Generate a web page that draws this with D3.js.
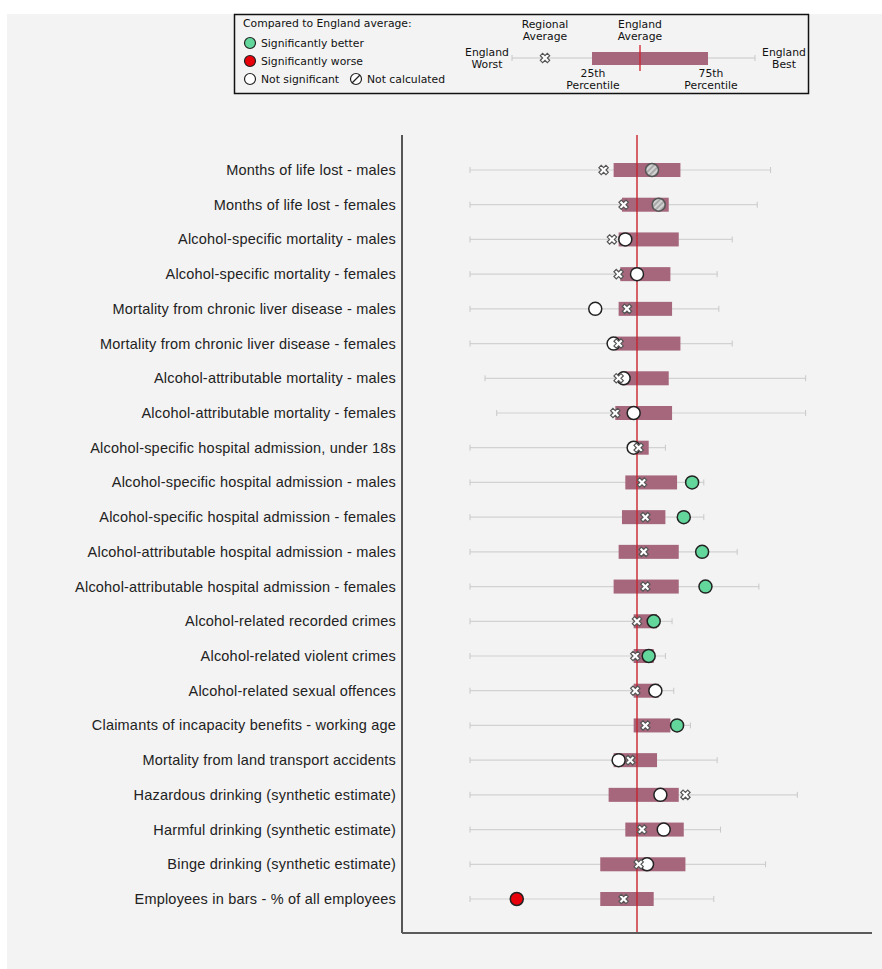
<!DOCTYPE html>
<html>
<head>
<meta charset="utf-8">
<script src="https://cdn.jsdelivr.net/npm/d3@7"></script>
<style>
body { margin: 0; background: #fff; }
.label { font-family: "Liberation Sans", Arial, sans-serif; font-size: 14.5px; letter-spacing: 0.2px; fill: #222; }
.legend-text { font-family: "DejaVu Sans", Verdana, sans-serif; font-size: 10.8px; fill: #111; }
</style>
</head>
<body>
<div class="chart-wrapper"></div>
<script>
// indicators, top to bottom
const indicators = [
  'Months of life lost - males',
  'Months of life lost - females',
  'Alcohol-specific mortality - males',
  'Alcohol-specific mortality - females',
  'Mortality from chronic liver disease - males',
  'Mortality from chronic liver disease - females',
  'Alcohol-attributable mortality - males',
  'Alcohol-attributable mortality - females',
  'Alcohol-specific hospital admission, under 18s',
  'Alcohol-specific hospital admission - males',
  'Alcohol-specific hospital admission - females',
  'Alcohol-attributable hospital admission - males',
  'Alcohol-attributable hospital admission - females',
  'Alcohol-related recorded crimes',
  'Alcohol-related violent crimes',
  'Alcohol-related sexual offences',
  'Claimants of incapacity benefits - working age',
  'Mortality from land transport accidents',
  'Hazardous drinking (synthetic estimate)',
  'Harmful drinking (synthetic estimate)',
  'Binge drinking (synthetic estimate)',
  'Employees in bars - % of all employees'
]

// values on the spine scale: England average = 0, worst = -1
const englandWorst = [-1, -1, -1, -1, -1, -1, -0.91, -0.84, -1, -1, -1, -1, -1, -1, -1, -1, -1, -1, -1, -1, -1, -1]
const englandBest = [0.80, 0.72, 0.57, 0.48, 0.49, 0.57, 1.01, 1.01, 0.17, 0.40, 0.40, 0.60, 0.73, 0.21, 0.17, 0.22, 0.32, 0.48, 0.96, 0.50, 0.77, 0.46]
const percentile25 = [-0.14, -0.09, -0.11, -0.10, -0.11, -0.13, -0.09, -0.13, -0.01, -0.07, -0.09, -0.11, -0.14, -0.02, -0.02, -0.02, -0.02, -0.14, -0.17, -0.07, -0.22, -0.22]
const percentile75 = [0.26, 0.19, 0.25, 0.20, 0.21, 0.26, 0.19, 0.21, 0.07, 0.24, 0.17, 0.25, 0.25, 0.12, 0.10, 0.13, 0.20, 0.12, 0.25, 0.28, 0.29, 0.10]
const regionalAvg = [-0.20, -0.08, -0.15, -0.11, -0.06, -0.11, -0.11, -0.13, 0.01, 0.03, 0.05, 0.04, 0.05, 0.00, -0.01, -0.01, 0.05, -0.04, 0.29, 0.03, 0.01, -0.08]
const localValue = [0.09, 0.13, -0.07, 0.00, -0.25, -0.14, -0.08, -0.02, -0.02, 0.33, 0.28, 0.39, 0.41, 0.10, 0.07, 0.11, 0.24, -0.11, 0.14, 0.16, 0.06, -0.72]
const significance = ['nc', 'nc', 'ns', 'ns', 'ns', 'ns', 'ns', 'ns', 'ns', 'better', 'better', 'better', 'better', 'better', 'better', 'ns', 'better', 'ns', 'ns', 'ns', 'ns', 'worse']

const sigFill = { better: '#63d69c', worse: '#e8000b', ns: '#fff', nc: 'url(#hatch)' }
const boxColor = '#a6677d'
const width = 882
const height = 969

let rows = indicators.map((name, i) => ({
  name: name,
  worst: englandWorst[i],
  best: englandBest[i],
  q25: percentile25[i],
  q75: percentile75[i],
  region: regionalAvg[i],
  value: localValue[i],
  sig: significance[i]
}))

let svg = d3.select('.chart-wrapper').append('svg')
  .attr('width', width)
  .attr('height', height)

let defs = svg.append('defs')
let hatch = defs.append('pattern')
  .attr('id', 'hatch')
  .attr('patternUnits', 'userSpaceOnUse')
  .attr('width', 4)
  .attr('height', 4)
  .attr('patternTransform', 'rotate(-45)')
hatch.append('rect').attr('width', 4).attr('height', 4).attr('fill', '#a9a9a9')
hatch.append('line').attr('x1', 0).attr('y1', 1).attr('x2', 4).attr('y2', 1)
  .attr('stroke', '#e2e2e2').attr('stroke-width', 1.5)

svg.append('rect')
  .attr('x', 7)
  .attr('y', 14)
  .attr('width', width - 7)
  .attr('height', height - 14)
  .attr('fill', '#f3f3f3')

let x = d3.scaleLinear()
  .domain([-1, 1])
  .range([470, 804])

let y = d3.scalePoint()
  .domain(indicators)
  .range([170, 899])

const plotLeft = 402, plotRight = 872, plotTop = 135, plotBottom = 933

// regional marker, a bold x
let crossPath = d3.symbol().type(d3.symbolCross).size(55)()

function regionMarker(g, cx, cy) {
  g.append('path')
    .attr('d', crossPath)
    .attr('transform', 'translate(' + cx + ',' + cy + ') rotate(45)')
    .attr('fill', '#fff')
    .attr('stroke', '#555')
    .attr('stroke-width', 1.2)
}

// ----- legend
let legend = svg.append('g')

legend.append('rect')
  .attr('x', 234.5)
  .attr('y', 14.5)
  .attr('width', 574)
  .attr('height', 79)
  .attr('fill', '#f3f3f3')
  .attr('stroke', '#111')
  .attr('stroke-width', 1.5)

legend.append('text').attr('class', 'legend-text')
  .attr('x', 243).attr('y', 27)
  .text('Compared to England average:')

let legendItems = [
  { label: 'Significantly better', fill: sigFill.better, x: 250, y: 43 },
  { label: 'Significantly worse', fill: sigFill.worse, x: 250, y: 61 },
  { label: 'Not significant', fill: '#fff', x: 250, y: 79 },
  { label: 'Not calculated', fill: '#fff', x: 356, y: 79 }
]

legendItems.forEach(d => {
  legend.append('circle')
    .attr('cx', d.x).attr('cy', d.y).attr('r', 5.5)
    .attr('fill', d.fill)
    .attr('stroke', '#222')
    .attr('stroke-width', 1.2)
  legend.append('text').attr('class', 'legend-text')
    .attr('x', d.x + 11).attr('y', d.y + 4)
    .text(d.label)
})
legend.append('line')
  .attr('x1', 352).attr('y1', 83).attr('x2', 360).attr('y2', 75)
  .attr('stroke', '#222').attr('stroke-width', 1.2)

// legend spine
legend.append('line')
  .attr('x1', 512).attr('x2', 755).attr('y1', 58).attr('y2', 58)
  .attr('stroke', '#c8c8c8').attr('stroke-width', 1.2)
legend.selectAll('.cap').data([512, 755]).enter().append('line')
  .attr('x1', d => d).attr('x2', d => d).attr('y1', 55).attr('y2', 61)
  .attr('stroke', '#c8c8c8')
legend.append('rect')
  .attr('x', 592).attr('y', 52).attr('width', 116).attr('height', 13)
  .attr('fill', boxColor)
legend.append('line')
  .attr('x1', 640).attr('x2', 640).attr('y1', 45).attr('y2', 71)
  .attr('stroke', '#d0202a').attr('stroke-width', 1.3)
regionMarker(legend, 545, 58)

let legendLabels = [
  { lines: ['Regional', 'Average'], x: 545, y: 28 },
  { lines: ['England', 'Average'], x: 640, y: 28 },
  { lines: ['England', 'Worst'], x: 487, y: 56 },
  { lines: ['England', 'Best'], x: 784, y: 56 },
  { lines: ['25th', 'Percentile'], x: 593, y: 77 },
  { lines: ['75th', 'Percentile'], x: 711, y: 77 }
]
legendLabels.forEach(d => {
  let t = legend.append('text').attr('class', 'legend-text')
    .attr('text-anchor', 'middle')
  d.lines.forEach((l, i) => {
    t.append('tspan').attr('x', d.x).attr('y', d.y + i * 12).text(l)
  })
})

// ----- rows
let rowG = svg.append('g').selectAll('g')
  .data(rows)
  .enter()
  .append('g')
  .attr('transform', d => 'translate(0,' + y(d.name) + ')')

rowG.append('text')
  .attr('class', 'label')
  .attr('x', 396)
  .attr('y', 5)
  .attr('text-anchor', 'end')
  .text(d => d.name)

rowG.append('line')
  .attr('x1', d => x(d.worst))
  .attr('x2', d => x(d.best))
  .attr('stroke', '#d2d2d2')
  .attr('stroke-width', 1.2)

rowG.selectAll('.cap')
  .data(d => [d.worst, d.best])
  .enter()
  .append('line')
  .attr('x1', d => x(d)).attr('x2', d => x(d))
  .attr('y1', -3).attr('y2', 3)
  .attr('stroke', '#c8c8c8')

rowG.append('rect')
  .attr('x', d => x(d.q25))
  .attr('y', -7)
  .attr('width', d => x(d.q75) - x(d.q25))
  .attr('height', 14)
  .attr('fill', boxColor)

// england average line
svg.append('line')
  .attr('x1', x(0)).attr('x2', x(0))
  .attr('y1', plotTop).attr('y2', plotBottom)
  .attr('stroke', '#c8232c')
  .attr('stroke-width', 1.4)

// axes frame
svg.append('line')
  .attr('x1', plotLeft).attr('x2', plotLeft)
  .attr('y1', plotTop).attr('y2', plotBottom)
  .attr('stroke', '#222').attr('stroke-width', 1.5)
svg.append('line')
  .attr('x1', plotLeft).attr('x2', plotRight)
  .attr('y1', plotBottom).attr('y2', plotBottom)
  .attr('stroke', '#5a5a5a').attr('stroke-width', 2)

let markG = svg.append('g').selectAll('g')
  .data(rows)
  .enter()
  .append('g')
  .attr('transform', d => 'translate(0,' + y(d.name) + ')')

markG.append('circle')
  .attr('cx', d => x(d.value))
  .attr('r', 6.5)
  .attr('fill', d => sigFill[d.sig])
  .attr('stroke', d => d.sig === 'nc' ? '#555' : '#222')
  .attr('stroke-width', 1.5)

markG.each(function(d) {
  regionMarker(d3.select(this), x(d.region), 0)
})
</script>
</body>
</html>
